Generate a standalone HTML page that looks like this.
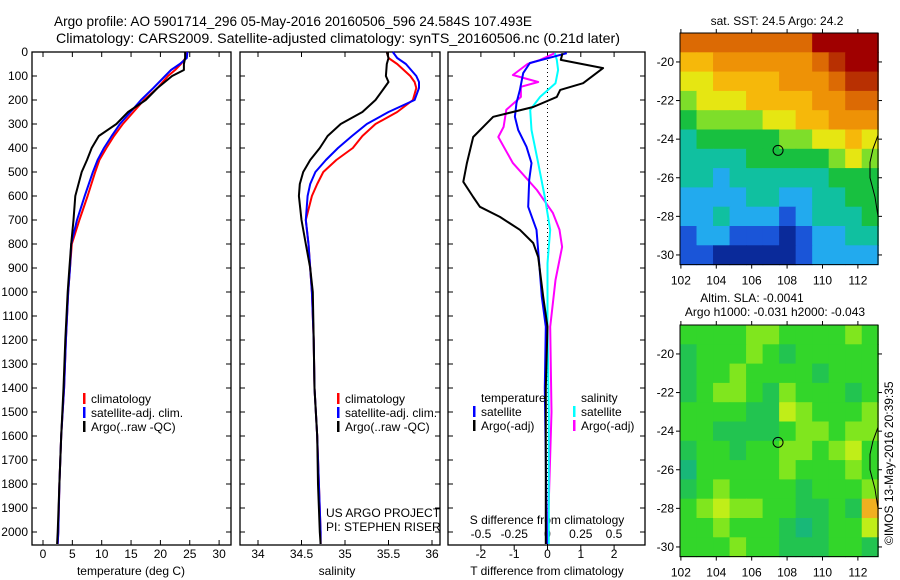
<!DOCTYPE html>
<html><head><meta charset="utf-8"><style>
html,body{margin:0;padding:0;background:#fff;}
svg{display:block;font-family:"Liberation Sans",sans-serif;}
</style></head><body>
<svg id="fig" width="900" height="580" viewBox="0 0 900 580">
<text x="54" y="26" font-size="14" textLength="478" lengthAdjust="spacingAndGlyphs">Argo profile: AO 5901714_296 05-May-2016 20160506_596 24.584S 107.493E</text>
<text x="56" y="43" font-size="14" textLength="564" lengthAdjust="spacingAndGlyphs">Climatology: CARS2009. Satellite-adjusted climatology: synTS_20160506.nc (0.21d later)</text>
<g id="maps"></g>
<g id="panels"></g>
<text transform="translate(893,545) rotate(-90)" font-size="12">©IMOS 13-May-2016 20:39:35</text>
</svg>
<script>
// ---- data ----
const depthT = [0,25,50,75,100,150,200,250,300,350,400,450,500,600,700,800,900,1000,1200,1400,1600,1800,2000,2050];
const tempArgo = [24.2,24.2,24.0,24.0,22.0,19.5,17.5,14.5,12.5,9.5,8.3,7.5,6.6,5.5,5.2,4.8,4.5,4.2,3.8,3.5,3.1,2.8,2.5,2.4];
const tempClim = [24.4,24.3,23.5,22.5,21.3,19.5,17.2,15.4,13.6,12.1,10.8,9.6,8.9,7.6,6.2,4.9,4.6,4.3,3.9,3.6,3.1,2.8,2.6,2.5];
const tempSat  = [24.6,24.5,23.3,21.8,20.8,18.8,16.7,14.9,13.1,11.7,10.4,9.3,8.5,7.1,5.8,4.8,4.6,4.3,3.9,3.6,3.1,2.8,2.6,2.5];
const depthS = [0,25,50,100,125,150,200,250,300,350,400,450,500,550,600,700,800,900,1000,1200,1400,1600,1800,2000,2050];
const salArgo = [35.48,35.5,35.48,35.47,35.5,35.45,35.35,35.2,34.95,34.8,34.71,34.6,34.52,34.48,34.47,34.5,34.55,34.6,34.63,34.64,34.65,34.68,34.69,34.71,34.72];
const salClim = [35.48,35.5,35.6,35.75,35.8,35.82,35.78,35.6,35.35,35.2,35.09,34.9,34.75,34.68,34.62,34.55,34.58,34.6,34.62,34.64,34.65,34.68,34.7,34.72,34.72];
const salSat  = [35.55,35.6,35.7,35.82,35.85,35.85,35.8,35.5,35.25,35.08,34.92,34.78,34.66,34.6,34.57,34.55,34.58,34.6,34.62,34.64,34.65,34.68,34.7,34.72,34.72];
const depthTd = [5,33,67,130,158,187,229,270,354,463,541,604,645,687,741,796,854,1020,1145,1400,1700,2050];
const tdArgo = [0.45,0.4,1.67,1.07,0.38,0.28,-0.43,-1.63,-2.23,-2.42,-2.53,-2.23,-2.03,-1.43,-0.83,-0.43,-0.28,-0.13,0,-0.05,-0.05,-0.05];
const depthTs = [5,46,88,158,212,270,325,395,463,533,645,741,880,1020,1145,1400,1700,2050];
const tdSat = [0.58,-0.53,-0.73,-0.83,-0.93,-0.98,-0.88,-0.63,-0.48,-0.55,-0.58,-0.33,-0.25,-0.17,-0.05,-0.08,-0.05,-0.02];
const depthSs = [5,33,75,130,187,241,325,463,604,741,880,1145,1500,2050];
const sdSat = [0.056,0.07,0.08,0.06,-0.056,-0.13,-0.12,-0.07,-0.02,0.02,0,0,0.01,0.01];
const depthSa = [5,33,50,96,125,145,187,241,312,354,463,575,670,741,812,950,1145,1500,2050];
const sdArgo = [0.056,-0.056,-0.15,-0.26,-0.07,-0.2,-0.2,-0.31,-0.33,-0.37,-0.26,-0.08,0.04,0.09,0.11,0.06,0.02,0.03,0.0];
const depthTicks = [0,100,200,300,400,500,600,700,800,900,1000,1100,1200,1300,1400,1500,1600,1700,1800,1900,2000];
const tempTicks = [0,5,10,15,20,25,30];
const salTicks = [34,34.5,35,35.5,36];
const salTickLabels = ["34","34.5","35","35.5","36"];
const tdTicks = [-2,-1,0,1,2];
const sdTicks = [-0.5,-0.25,0,0.25,0.5];
const sdTickLabels = ["-0.5","-0.25","0","0.25","0.5"];
const lonTicks = [102,104,106,108,110,112];
const latTicks = [-20,-22,-24,-26,-28,-30];
// SST grid: rows lat -19..-30, cols lon 102..113 (colour index 0..11)
const sstGrid = [
[9,9,9,9,9,9,9,9,11,11,11,11],
[7,7,8,8,8,8,8,8,9,10,11,11],
[6,6,7,7,7,7,8,8,8,9,10,10],
[5,6,6,6,7,7,7,7,8,8,9,9],
[4,5,5,5,5,6,6,7,7,8,8,8],
[3,4,4,4,4,4,5,5,6,6,7,6],
[3,3,3,3,4,4,4,4,4,5,6,5],
[3,3,2,3,3,3,3,3,3,4,4,4],
[2,2,2,2,3,3,2,2,3,3,4,4],
[2,2,3,2,2,2,1,2,3,3,3,4],
[1,2,2,1,1,1,0,1,2,2,3,3],
[1,1,0,0,0,0,0,1,2,2,2,2]];
const slaGrid = [
[2,2,2,2,3,3,2,2,2,2,3,2],
[1,2,2,2,3,2,1,2,2,2,2,2],
[1,2,2,3,2,2,2,2,1,2,2,2],
[1,2,3,3,2,1,3,2,2,2,1,2],
[2,2,2,2,1,1,4,3,2,2,2,3],
[2,2,1,1,1,1,2,3,3,2,3,3],
[1,2,2,1,2,2,3,3,2,3,4,2],
[0,2,2,2,2,2,3,2,2,2,3,2],
[1,2,3,2,2,2,2,1,2,2,2,3],
[2,3,4,3,3,2,2,1,1,2,1,5],
[2,2,3,2,2,2,1,0,1,2,2,4],
[2,2,2,3,2,2,1,1,1,2,2,1]];
const sstColors = ["#0a2a9a","#1a55d8","#22aaee","#10c0a0","#18c040","#7ede2a","#e6e612","#f6b80a","#ee9206","#dc6a04","#b83002","#a00000"];
const slaColors = ["#18b878","#22c450","#33d62a","#80e61e","#c0ee18","#f0b020"];

const NS="http://www.w3.org/2000/svg";
const svg=document.getElementById('fig');
const panels=document.getElementById('panels');
const maps=document.getElementById('maps');
function mk(tag,attrs,parent){const e=document.createElementNS(NS,tag);for(const k in attrs)e.setAttribute(k,attrs[k]);(parent||svg).appendChild(e);return e;}
function txt(x,y,s,size,anchor,parent){const t=mk('text',{x:x,y:y,'font-size':size,'text-anchor':anchor||'start'},parent);t.textContent=s;return t;}

const TOP=52, BOT=545;
const yD=d=>TOP+d*0.24;

function panelBox(x0,x1,name){
  const r=mk('rect',{x:x0,y:TOP,width:x1-x0,height:BOT-TOP,fill:'none',stroke:'#000','stroke-width':1.3},panels);
  
  
}
function line(xs,ds,xf,color,w,name){
  let d='';for(let i=0;i<xs.length;i++){d+=(i?'L':'M')+xf(xs[i]).toFixed(1)+','+yD(ds[i]).toFixed(1);}
  const p=mk('path',{d:d,fill:'none',stroke:color,'stroke-width':w,'stroke-linejoin':'round'},panels);
  
  
}
function xTicks(vals,labels,xf,ylab,name,inside){
  const g=mk('g',{},panels);
  
  
  vals.forEach((v,i)=>{
    const x=xf(v);
    mk('line',{x1:x,x2:x,y1:TOP,y2:TOP+5,stroke:'#000'},g);
    if(!inside) mk('line',{x1:x,x2:x,y1:BOT,y2:BOT-5,stroke:'#000'},g);
    else mk('line',{x1:x,x2:x,y1:BOT,y2:BOT+5,stroke:'#000'},g);
    txt(x,ylab,labels[i],12,'middle',g);
  });
}
function yTicks(x0,x1,labels){
  depthTicks.forEach(d=>{
    mk('line',{x1:x0,x2:x0+5,y1:yD(d),y2:yD(d),stroke:'#000'},panels);
    mk('line',{x1:x1,x2:x1-5,y1:yD(d),y2:yD(d),stroke:'#000'},panels);
    if(labels){const t=txt(28,yD(d)+4,String(d),12,'end',panels);
      
      }
  });
}
function legendEntry(x,y,color,label,g){
  mk('rect',{x:x,y:y-10,width:2.5,height:11,fill:color},g);
  txt(x+8,y,label,12,'start',g);
}

// Panel 1: temperature
const xT=v=>43+v*5.87;
panelBox(32,231,'temperature-panel');
yTicks(32,231,true);
xTicks(tempTicks,tempTicks.map(String),xT,558,'temperature-x-axis',false);
txt(131,575,'temperature (deg C)',12,'middle',panels);
line(tempClim,depthT,xT,'#f00',2,'temp-climatology-line');
line(tempSat,depthT,xT,'#00f',2,'temp-satellite-line');
line(tempArgo,depthT,xT,'#000',2,'temp-argo-line');
{const g=mk('g',{},panels);
legendEntry(83,403,'#f00','climatology',g);legendEntry(83,417,'#00f','satellite-adj. clim.',g);legendEntry(83,431,'#000','Argo(..raw -QC)',g);}

// Panel 2: salinity
const xS=v=>258+(v-34)*87;
panelBox(240,440,'salinity-panel');
yTicks(240,440,false);
xTicks(salTicks,salTickLabels,xS,558,'salinity-x-axis',false);
txt(337,575,'salinity',12,'middle',panels);
line(salClim,depthS,xS,'#f00',2,'sal-climatology-line');
line(salSat,depthS,xS,'#00f',2,'sal-satellite-line');
line(salArgo,depthS,xS,'#000',2,'sal-argo-line');
{const g=mk('g',{},panels);
legendEntry(337,403,'#f00','climatology',g);legendEntry(337,417,'#00f','satellite-adj. clim.',g);legendEntry(337,431,'#000','Argo(..raw -QC)',g);}
txt(326,517,'US ARGO PROJECT',12,'start',panels);
txt(326,531,'PI: STEPHEN RISER',12,'start',panels);

// Panel 3: differences
const xTd=v=>547.5+v*33.3;
const xSd=v=>547.5+v*133;
panelBox(448,645,'difference-panel');
yTicks(448,645,false);
mk('line',{x1:547.5,x2:547.5,y1:TOP,y2:BOT,stroke:'#000','stroke-dasharray':'1,3'},panels);
xTicks(tdTicks,tdTicks.map(String),xTd,558,'t-difference-x-axis',true);
{const g=mk('g',{},panels);
sdTicks.forEach((v,i)=>txt(xSd(v),538,sdTickLabels[i],12,'middle',g));}
txt(547,524,'S difference from climatology',12,'middle',panels);
txt(547,575,'T difference from climatology',12,'middle',panels);
line(sdArgo,depthSa,xSd,'#f0f',2,'sdiff-argo-line');
line(sdSat,depthSs,xSd,'#0ff',2,'sdiff-satellite-line');
line(tdSat,depthTs,xTd,'#00f',2,'tdiff-satellite-line');
line(tdArgo,depthTd,xTd,'#000',2,'tdiff-argo-line');
{const g=mk('g',{},panels);
txt(481,402,'temperature',12,'start',g);txt(581,402,'salinity',12,'start',g);
legendEntry(473,416,'#00f','satellite',g);legendEntry(473,430,'#000','Argo(-adj)',g);
legendEntry(573,416,'#0ff','satellite',g);legendEntry(573,430,'#f0f','Argo(-adj)',g);}

// Maps
function drawMap(grid,colors,y0,name,title1,title2){
  const g=mk('g',{},maps);
  
  
  const x0=680,x1=878,lon0=101.95,pxLon=17.7,pxLat=19.3;
  const lonX=l=>x0+(l-lon0)*pxLon;
  const latY=l=>y0+(-18.5-l)*pxLat;
  const y1=latY(-30.5);
  grid.forEach((row,r)=>row.forEach((c,ci)=>{
    const lonA=lon0+ci*(11.2/12), lonB=lon0+(ci+1)*(11.2/12);
    const cell=mk('rect',{x:lonX(lonA),y:latY(-18.5-r),width:lonX(lonB)-lonX(lonA)+0.6,height:pxLat+0.6,fill:colors[c]},g);
    
    
  }));
  mk('path',{d:`M${x1},${latY(-23.8)} L${x1-5},${latY(-24.5)} L${x1-8},${latY(-25.2)} L${x1-8},${latY(-26)} L${x1-3},${latY(-27)} L${x1},${latY(-28)}`,fill:'none',stroke:'#000','stroke-width':1},g);
  mk('circle',{cx:lonX(107.49),cy:latY(-24.58),r:5,fill:'none',stroke:'#000','stroke-width':1},g);
  mk('rect',{x:x0,y:y0,width:x1-x0,height:y1-y0,fill:'none',stroke:'#000','stroke-width':1},g);
  lonTicks.forEach(l=>{const x=lonX(l);mk('line',{x1:x,x2:x,y1:y0-4,y2:y0,stroke:'#000'},g);mk('line',{x1:x,x2:x,y1:y1,y2:y1+4,stroke:'#000'},g);txt(x,y1+20,String(l),12,'middle',g);});
  latTicks.forEach(l=>{const y=latY(l);mk('line',{x1:x0-4,x2:x0,y1:y,y2:y,stroke:'#000'},g);mk('line',{x1:x1,x2:x1+4,y1:y,y2:y,stroke:'#000'},g);txt(x0-6,y+4,String(l),12,'end',g);});
  if(title2){txt(752,302,title1,12,'middle',g);txt(775,316,title2,12,'middle',g);}
  else txt(777,25,title1,12,'middle',g);
}
drawMap(sstGrid,sstColors,33,'sst-map','sat. SST: 24.5 Argo: 24.2');
drawMap(slaGrid,slaColors,325,'sla-map','Altim. SLA: -0.0041','Argo h1000: -0.031 h2000: -0.043');
</script>
</body></html>
